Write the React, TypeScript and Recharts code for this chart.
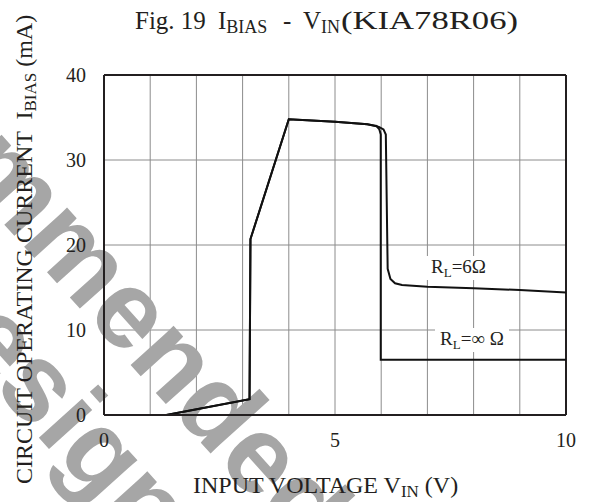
import {
  LineChart,
  Line,
  XAxis,
  YAxis,
  CartesianGrid,
  ReferenceLine,
  Customized,
} from "recharts";

// input voltage (V) / bias current (mA)
const RL6_VIN = [1.35, 3.15, 3.17, 4.0, 5.0, 5.7, 5.95, 6.05, 6.1, 6.12, 6.14, 6.2, 6.3, 6.45, 7.0, 8.0, 9.0, 10.0];
const RL6_IBIAS = [0, 1.85, 20.7, 34.8, 34.5, 34.2, 33.9, 33.6, 33.0, 25.0, 17.2, 16.0, 15.5, 15.3, 15.1, 14.9, 14.7, 14.4];

const RLINF_VIN = [1.35, 3.15, 3.17, 4.0, 5.0, 5.7, 5.9, 5.96, 5.99, 5.99, 10.0];
const RLINF_IBIAS = [0, 1.85, 20.7, 34.8, 34.5, 34.2, 34.0, 33.6, 33.0, 6.5, 6.5];

const X_TICKS = [0, 1, 2, 3, 4, 5, 6, 7, 8, 9, 10];
const X_LABELED = [0, 5, 10];
const Y_TICKS = [0, 10, 20, 30, 40];

const rl6 = RL6_VIN.map((v, i) => ({ v, i: RL6_IBIAS[i] }));
const rlInf = RLINF_VIN.map((v, i) => ({ v, i: RLINF_IBIAS[i] }));

const INK = "#231f20";
const SERIF = "'Liberation Serif', 'Times New Roman', serif";

function Watermark() {
  const style = {
    fontFamily: "'Liberation Sans', Arial, sans-serif",
    fontWeight: 700,
    fontSize: 110,
    fill: "#a6a6a6",
  };
  return (
    <g>
      <g transform="translate(59,242) rotate(48)">
        <text x={0} y={29} textAnchor="middle" style={style}>
          Recommended
        </text>
      </g>
      <g transform="translate(43,399) rotate(48)">
        <text x={0} y={29} textAnchor="middle" style={style}>
          Design
        </text>
      </g>
    </g>
  );
}

function Texts() {
  return (
    <g fill={INK} style={{ fontFamily: SERIF }}>
      <text y={29} fontSize={25} style={{ whiteSpace: "pre" }}>
        <tspan x={135}>Fig. 19</tspan>
        <tspan x={218}>I</tspan>
        <tspan fontSize={18} dy={4}>BIAS</tspan>
        <tspan x={283} dy={-4}>-</tspan>
        <tspan x={303}>V</tspan>
        <tspan fontSize={18} dy={4}>IN</tspan>
      </text>
      <text x={341} y={29} fontSize={25} textLength={177} lengthAdjust="spacingAndGlyphs">
        (KIA78R06)
      </text>

      <text transform="translate(32,484) rotate(-90)" fontSize={24} style={{ whiteSpace: "pre" }}>
        <tspan>CIRCUIT OPERATING CURRENT  I</tspan>
        <tspan fontSize={17} dy={4}>BIAS</tspan>
        <tspan dy={-4}> (mA)</tspan>
      </text>

      <text x={193} y={493} fontSize={24} style={{ whiteSpace: "pre" }}>
        <tspan>INPUT VOLTAGE V</tspan>
        <tspan fontSize={17} dy={4}>IN</tspan>
        <tspan dy={-4}> (V)</tspan>
      </text>

      <rect x={426} y={256} width={64} height={24} fill="#fff" />
      <text x={431} y={273} fontSize={19}>
        <tspan>R</tspan>
        <tspan fontSize={13} dy={4}>L</tspan>
        <tspan dy={-4}>=6Ω</tspan>
      </text>

      <rect x={435} y={328} width={74} height={24} fill="#fff" />
      <text x={440} y={345} fontSize={19}>
        <tspan>R</tspan>
        <tspan fontSize={13} dy={4}>L</tspan>
        <tspan dy={-4}>=∞ Ω</tspan>
      </text>
    </g>
  );
}

export default function App() {
  return (
    <div style={{ position: "absolute", left: 0, top: 0, width: 589, height: 502, background: "#fff" }}>
      <LineChart
        width={589}
        height={502}
        margin={{ top: 75, right: 23, bottom: 57, left: 64 }}
        style={{ fontFamily: SERIF }}
      >
        <CartesianGrid stroke="#8c8c8c" strokeWidth={1} />
        <Customized component={Watermark} />
        <XAxis
          dataKey="v"
          type="number"
          domain={[0, 10]}
          ticks={X_TICKS}
          tickFormatter={(t: number) => (X_LABELED.includes(t) ? String(t) : "")}
          height={30}
          tickSize={0}
          tickMargin={18}
          tickLine={false}
          axisLine={{ stroke: INK, strokeWidth: 2 }}
          tick={{ fill: INK, fontSize: 20, fontFamily: SERIF }}
        />
        <YAxis
          type="number"
          domain={[0, 40]}
          ticks={Y_TICKS}
          width={40}
          tickSize={0}
          tickMargin={18}
          tickLine={false}
          axisLine={{ stroke: INK, strokeWidth: 2 }}
          tick={{ fill: INK, fontSize: 20, fontFamily: SERIF }}
        />
        <ReferenceLine y={40} stroke={INK} strokeWidth={2} />
        <ReferenceLine x={10} stroke={INK} strokeWidth={2} />
        <Line
          data={rl6}
          dataKey="i"
          type="linear"
          stroke="#111"
          strokeWidth={2}
          dot={false}
          isAnimationActive={false}
        />
        <Line
          data={rlInf}
          dataKey="i"
          type="linear"
          stroke="#111"
          strokeWidth={2}
          dot={false}
          isAnimationActive={false}
        />
        <Customized component={Texts} />
      </LineChart>
    </div>
  );
}
